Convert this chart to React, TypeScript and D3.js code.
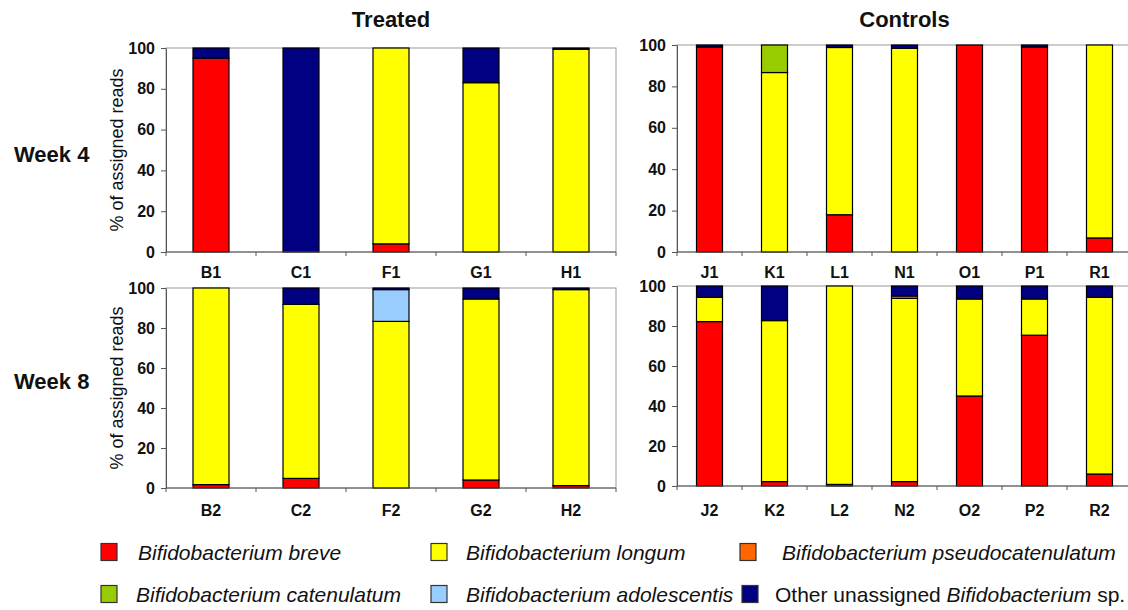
import React from "react";
import * as d3 from "d3";

// species, bottom to top in each stacked bar
const speciesKeys = ["breve", "longum", "pseudocatenulatum", "catenulatum", "adolescentis", "other"];
const speciesColors = ["#FF0000", "#FFFF00", "#FF6600", "#99CC00", "#99CCFF", "#000080"];

const treatedW4Labels = ["B1", "C1", "F1", "G1", "H1"];
const treatedW8Labels = ["B2", "C2", "F2", "G2", "H2"];
const controlsW4Labels = ["J1", "K1", "L1", "N1", "O1", "P1", "R1"];
const controlsW8Labels = ["J2", "K2", "L2", "N2", "O2", "P2", "R2"];

// % of assigned reads per sample, in speciesKeys order
const treatedW4 = [
  [95, 0, 0, 0, 0, 5],
  [0, 0, 0, 0, 0, 100],
  [4, 96, 0, 0, 0, 0],
  [0, 83, 0, 0, 0, 17],
  [0, 99.4, 0, 0, 0, 0.6],
];
const controlsW4 = [
  [99, 0, 0, 0, 0, 1],
  [0, 86.7, 0, 13.3, 0, 0],
  [18, 80.8, 0, 0, 0, 1.2],
  [0, 98.4, 0, 0, 0, 1.6],
  [100, 0, 0, 0, 0, 0],
  [99, 0, 0, 0, 0, 1],
  [6.8, 93.2, 0, 0, 0, 0],
];
const treatedW8 = [
  [1.7, 98.3, 0, 0, 0, 0],
  [4.8, 87, 0, 0, 0, 8.2],
  [0, 83.3, 0, 0, 15.9, 0.8],
  [4, 90.5, 0, 0, 0, 5.5],
  [1.2, 98, 0, 0, 0, 0.8],
];
const controlsW8 = [
  [82.2, 12.2, 0, 0, 0, 5.6],
  [2.2, 80.5, 0, 0, 0, 17.3],
  [0.8, 99.2, 0, 0, 0, 0],
  [2.2, 91.6, 1.2, 0, 0, 5],
  [45, 48.5, 0, 0, 0, 6.5],
  [75.4, 18.1, 0, 0, 0, 6.5],
  [6, 88.4, 0, 0, 0, 5.6],
];

const yTicks = [0, 20, 40, 60, 80, 100];
const legendLabels = [
  ["Bifidobacterium breve"],
  ["Bifidobacterium longum"],
  ["Bifidobacterium pseudocatenulatum"],
  ["Bifidobacterium catenulatum"],
  ["Bifidobacterium adolescentis"],
  ["Other unassigned ", "Bifidobacterium", " sp."],
];

const FONT = "'Liberation Sans', Arial, sans-serif";

const App = () => {
  const svgRef = React.useRef(null);

  React.useEffect(() => {
    const svgEl = d3.select(svgRef.current);
    svgEl.selectAll("*").remove();

    const panels = [
      { labels: treatedW4Labels, values: treatedW4, x0: 166, x1: 616, y0: 48, y1: 252, labelY: 278, yLabel: true },
      { labels: controlsW4Labels, values: controlsW4, x0: 677, x1: 1132, y0: 45, y1: 252, labelY: 278, yLabel: false },
      { labels: treatedW8Labels, values: treatedW8, x0: 166, x1: 616, y0: 288, y1: 488, labelY: 516, yLabel: true },
      { labels: controlsW8Labels, values: controlsW8, x0: 677, x1: 1132, y0: 286, y1: 486, labelY: 516, yLabel: false },
    ];

    const stack = d3.stack().keys(speciesKeys);

    panels.forEach((p) => {
      const g = svgEl.append("g");
      const x = d3.scaleBand().domain(p.labels).range([p.x0, p.x1]).padding(0);
      const y = d3.scaleLinear().domain([0, 100]).range([p.y1, p.y0]);
      const barW = x.bandwidth() * 0.4;

      // plot frame (top/right light grey)
      g.append("rect")
        .attr("x", p.x0).attr("y", p.y0)
        .attr("width", p.x1 - p.x0).attr("height", p.y1 - p.y0)
        .attr("fill", "white").attr("stroke", "#9a9a9a").attr("stroke-width", 1);

      const rows = p.values.map((v, i) => {
        const o = { sample: p.labels[i] };
        speciesKeys.forEach((k, j) => (o[k] = v[j]));
        return o;
      });
      const layers = stack(rows);

      layers.forEach((layer, li) => {
        g.append("g")
          .selectAll("rect")
          .data(layer.filter((d) => d[1] - d[0] > 0))
          .enter()
          .append("rect")
          .attr("x", (d) => x(d.data.sample) + (x.bandwidth() - barW) / 2)
          .attr("y", (d) => y(d[1]))
          .attr("width", barW)
          .attr("height", (d) => y(d[0]) - y(d[1]))
          .attr("fill", speciesColors[li])
          .attr("stroke", "#000")
          .attr("stroke-width", 1.2);
      });

      // y axis
      const yAxis = d3.axisLeft(y).tickValues(yTicks).tickSize(5).tickSizeOuter(0).tickPadding(6);
      const yg = g.append("g").attr("transform", `translate(${p.x0},0)`).call(yAxis);
      yg.select(".domain").attr("stroke", "#555");
      yg.selectAll("line").attr("stroke", "#555");
      yg.selectAll("text")
        .attr("font-family", FONT).attr("font-size", 16).attr("font-weight", "bold").attr("fill", "#111");

      // x axis line with ticks between categories
      g.append("line")
        .attr("x1", p.x0).attr("x2", p.x1).attr("y1", p.y1).attr("y2", p.y1)
        .attr("stroke", "#555");
      const bounds = p.labels.map((l) => x(l)).concat([p.x1]);
      g.append("g")
        .selectAll("line")
        .data(bounds)
        .enter()
        .append("line")
        .attr("x1", (d) => d).attr("x2", (d) => d)
        .attr("y1", p.y1).attr("y2", p.y1 + 4)
        .attr("stroke", "#555");

      g.append("g")
        .selectAll("text")
        .data(p.labels)
        .enter()
        .append("text")
        .attr("x", (d) => x(d) + x.bandwidth() / 2)
        .attr("y", p.labelY)
        .attr("text-anchor", "middle")
        .attr("font-family", FONT).attr("font-size", 16).attr("font-weight", "bold").attr("fill", "#111")
        .text((d) => d);

      if (p.yLabel) {
        const cy = (p.y0 + p.y1) / 2;
        g.append("text")
          .attr("transform", `translate(123,${cy}) rotate(-90)`)
          .attr("text-anchor", "middle")
          .attr("font-family", FONT).attr("font-size", 18).attr("fill", "#111")
          .text("% of assigned reads");
      }
    });

    // column titles and row labels
    const bold = (t, xx, yy, anchor) =>
      svgEl.append("text")
        .attr("x", xx).attr("y", yy).attr("text-anchor", anchor)
        .attr("font-family", FONT).attr("font-size", 22).attr("font-weight", "bold").attr("fill", "#111")
        .text(t);
    bold("Treated", (panels[0].x0 + panels[0].x1) / 2, 27, "middle");
    bold("Controls", (panels[1].x0 + panels[1].x1) / 2, 27, "middle");
    bold("Week 4", 14, 162, "start");
    bold("Week 8", 14, 389, "start");

    // legend
    const legendPos = [
      { sx: 101, tx: 138, y: 552 },
      { sx: 431, tx: 466, y: 552 },
      { sx: 740, tx: 782, y: 552 },
      { sx: 101, tx: 136, y: 594 },
      { sx: 431, tx: 466, y: 594 },
      { sx: 742, tx: 775, y: 594 },
    ];
    const lg = svgEl.append("g");
    legendLabels.forEach((parts, i) => {
      const pos = legendPos[i];
      lg.append("rect")
        .attr("x", pos.sx).attr("y", pos.y - 8.5)
        .attr("width", 16).attr("height", 17)
        .attr("fill", speciesColors[i]).attr("stroke", "#333").attr("stroke-width", 1.2);
      const t = lg.append("text")
        .attr("x", pos.tx).attr("y", pos.y + 7.5)
        .attr("font-family", FONT).attr("font-size", 21).attr("fill", "#111");
      if (parts.length === 1) {
        t.append("tspan").attr("font-style", "italic").text(parts[0]);
      } else {
        t.append("tspan").text(parts[0]);
        t.append("tspan").attr("font-style", "italic").text(parts[1]);
        t.append("tspan").text(parts[2]);
      }
    });
  }, []);

  return (
    <svg
      ref={svgRef}
      width={1128}
      height={610}
      style={{ position: "absolute", left: 0, top: 0, background: "white" }}
    />
  );
};

export default App;
